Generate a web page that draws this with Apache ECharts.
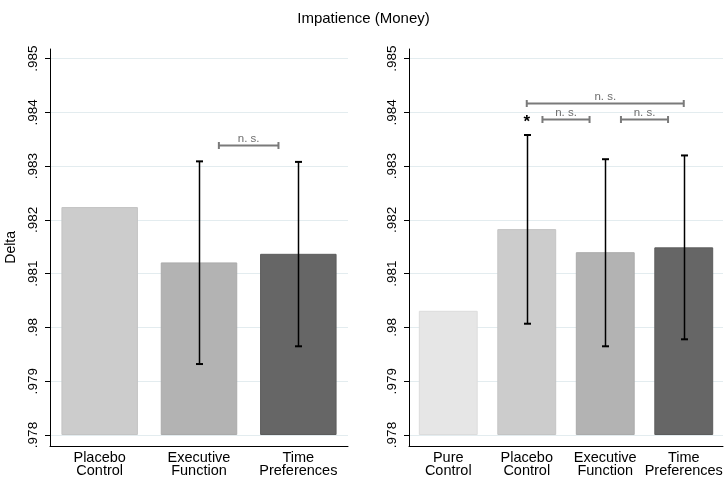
<!DOCTYPE html>
<html><head><meta charset="utf-8">
<script src="https://cdn.jsdelivr.net/npm/echarts@6/dist/echarts.min.js"></script>
<style>html,body{margin:0;padding:0;background:#fff}#c{width:727px;height:478px}</style>
</head><body><div id="c"></div>
<script>
const chartTitle = 'Impatience (Money)';
const yName = 'Delta';
const tickValues = [0.978, 0.979, 0.980, 0.981, 0.982, 0.983, 0.984, 0.985];
const tickLabels = ['.978', '.979', '.98', '.981', '.982', '.983', '.984', '.985'];
const barBase = 0.978;

const leftCats = ['Placebo\nControl', 'Executive\nFunction', 'Time\nPreferences'];
const leftMeans = [0.98224, 0.98121, 0.98137];
const leftLow = [null, 0.97932, 0.97965];
const leftHigh = [null, 0.98309, 0.98308];
const leftBrackets = [[1.2, 1.8, 0.98340, 'n. s.']];

const rightCats = ['Pure\nControl', 'Placebo\nControl', 'Executive\nFunction', 'Time\nPreferences'];
const rightMeans = [0.98031, 0.98183, 0.98140, 0.98149];
const rightLow = [null, 0.98007, 0.97965, 0.97978];
const rightHigh = [null, 0.98358, 0.98313, 0.98320];
const rightBrackets = [[1, 3, 0.98417, 'n. s.'], [1.2, 1.8, 0.98387, 'n. s.'], [2.2, 2.8, 0.98387, 'n. s.']];
const rightStars = [[1, 0.98388, '*']];

const leftFill = ['#cccccc', '#b3b3b3', '#666666'];
const leftEdge = ['#c4c4c4', '#aaaaaa', '#5c5c5c'];
const rightFill = ['#e6e6e6', '#cccccc', '#b3b3b3', '#666666'];
const rightEdge = ['#dcdcdc', '#c4c4c4', '#aaaaaa', '#5c5c5c'];

const FONT = '"Liberation Sans", Arial, sans-serif';

function fmt(v) {
  for (let i = 0; i < tickValues.length; i++) {
    if (Math.abs(v - tickValues[i]) < 1e-7) return tickLabels[i];
  }
  return '';
}

function yAxisOpt(gi, withName) {
  return {
    type: 'value', gridIndex: gi, min: 0.9778, max: 0.98518,
    name: withName ? yName : '', nameLocation: 'middle', nameGap: 32, nameRotate: 90,
    nameTextStyle: { fontFamily: FONT, fontSize: 14, color: '#000' },
    axisLine: { show: true, lineStyle: { color: '#000', width: 1 } },
    axisTick: { show: true, length: 5, lineStyle: { color: '#000' }, customValues: tickValues },
    axisLabel: { rotate: 90, margin: 10, fontFamily: FONT, fontSize: 13.5, color: '#000',
      formatter: fmt, customValues: tickValues },
    splitLine: { show: true, lineStyle: { color: '#e3ecef', width: 1 } }
  };
}

function xAxisOpt(gi, cats) {
  return {
    type: 'category', gridIndex: gi, data: cats, boundaryGap: true,
    axisLine: { show: true, lineStyle: { color: '#000', width: 1 } },
    axisTick: { show: false },
    axisLabel: { margin: 6, fontFamily: FONT, fontSize: 14.5, color: '#000', lineHeight: 12.5, interval: 0 },
    splitLine: { show: false }
  };
}

function barSeries(gi, means, fill, edge, width) {
  return [
    { type: 'bar', xAxisIndex: gi, yAxisIndex: gi, stack: 's' + gi, barWidth: width, silent: true,
      itemStyle: { color: 'transparent' }, data: means.map(() => barBase) },
    { type: 'bar', xAxisIndex: gi, yAxisIndex: gi, stack: 's' + gi, barWidth: width,
      data: means.map((m, i) => ({ value: m - barBase,
        itemStyle: { color: fill[i], borderColor: edge[i], borderWidth: 1 } })) }
  ];
}

function errSeries(gi, lows, highs) {
  const data = [];
  lows.forEach((l, i) => { if (l != null) data.push([i, l, highs[i]]); });
  return {
    type: 'custom', xAxisIndex: gi, yAxisIndex: gi, z: 5, data: data,
    renderItem: function (params, api) {
      const x = api.value(0);
      const p1 = api.coord([x, api.value(1)]);
      const p2 = api.coord([x, api.value(2)]);
      const cx = Math.round(p1[0]) + 0.5, w = 3.5;
      return { type: 'group', children: [
        { type: 'line', shape: { x1: cx, y1: p1[1], x2: cx, y2: p2[1] }, style: { stroke: '#000', lineWidth: 1.5 } },
        { type: 'line', shape: { x1: cx - w, y1: p1[1], x2: cx + w, y2: p1[1] }, style: { stroke: '#000', lineWidth: 2 } },
        { type: 'line', shape: { x1: cx - w, y1: p2[1], x2: cx + w, y2: p2[1] }, style: { stroke: '#000', lineWidth: 2 } }
      ] };
    }
  };
}

function bracketSeries(gi, brackets) {
  return {
    type: 'custom', xAxisIndex: gi, yAxisIndex: gi, z: 6,
    data: brackets.map(b => [b[0], b[1], b[2]]),
    renderItem: function (params, api) {
      const c0 = api.coord([0, api.value(2)]);
      const bw = api.size([1, 0])[0];
      const x1 = c0[0] + api.value(0) * bw, x2 = c0[0] + api.value(1) * bw;
      const y = Math.round(c0[1]) + 0.5;
      const st = { stroke: '#7a7a7a', lineWidth: 2 };
      return { type: 'group', children: [
        { type: 'line', shape: { x1: x1, y1: y, x2: x2, y2: y }, style: st },
        { type: 'line', shape: { x1: x1, y1: y - 3.5, x2: x1, y2: y + 3.5 }, style: st },
        { type: 'line', shape: { x1: x2, y1: y - 3.5, x2: x2, y2: y + 3.5 }, style: st },
        { type: 'text', x: (x1 + x2) / 2, y: y - 7, style: { text: brackets[params.dataIndex][3],
          fontFamily: FONT, fontSize: 11.5, fill: '#6e6e6e', align: 'center', verticalAlign: 'middle' } }
      ] };
    }
  };
}

function starSeries(gi, stars) {
  return {
    type: 'custom', xAxisIndex: gi, yAxisIndex: gi, z: 6,
    data: stars.map(s => [s[0], s[1]]),
    renderItem: function (params, api) {
      const p = api.coord([api.value(0), api.value(1)]);
      return { type: 'text', x: p[0], y: p[1] + 3, style: { text: stars[params.dataIndex][2],
        fontFamily: FONT, fontSize: 17, fontWeight: 'bold', fill: '#000', align: 'center', verticalAlign: 'middle' } };
    }
  };
}

const chart = echarts.init(document.getElementById('c'), null, { renderer: 'canvas' });
chart.setOption({
  animation: false,
  backgroundColor: '#fff',
  title: { text: chartTitle, left: 'center', top: 6,
    textStyle: { fontFamily: FONT, fontSize: 15, fontWeight: 'normal', color: '#000' } },
  grid: [
    { left: 50, top: 49, width: 298, bottom: 31 },
    { left: 409, top: 49, right: 4, bottom: 31 }
  ],
  xAxis: [xAxisOpt(0, leftCats), xAxisOpt(1, rightCats)],
  yAxis: [yAxisOpt(0, true), yAxisOpt(1, false)],
  series: [].concat(
    barSeries(0, leftMeans, leftFill, leftEdge, '77%'),
    barSeries(1, rightMeans, rightFill, rightEdge, '75%'),
    [errSeries(0, leftLow, leftHigh), errSeries(1, rightLow, rightHigh),
     bracketSeries(0, leftBrackets), bracketSeries(1, rightBrackets),
     starSeries(1, rightStars)]
  )
});
</script>
</body></html>
